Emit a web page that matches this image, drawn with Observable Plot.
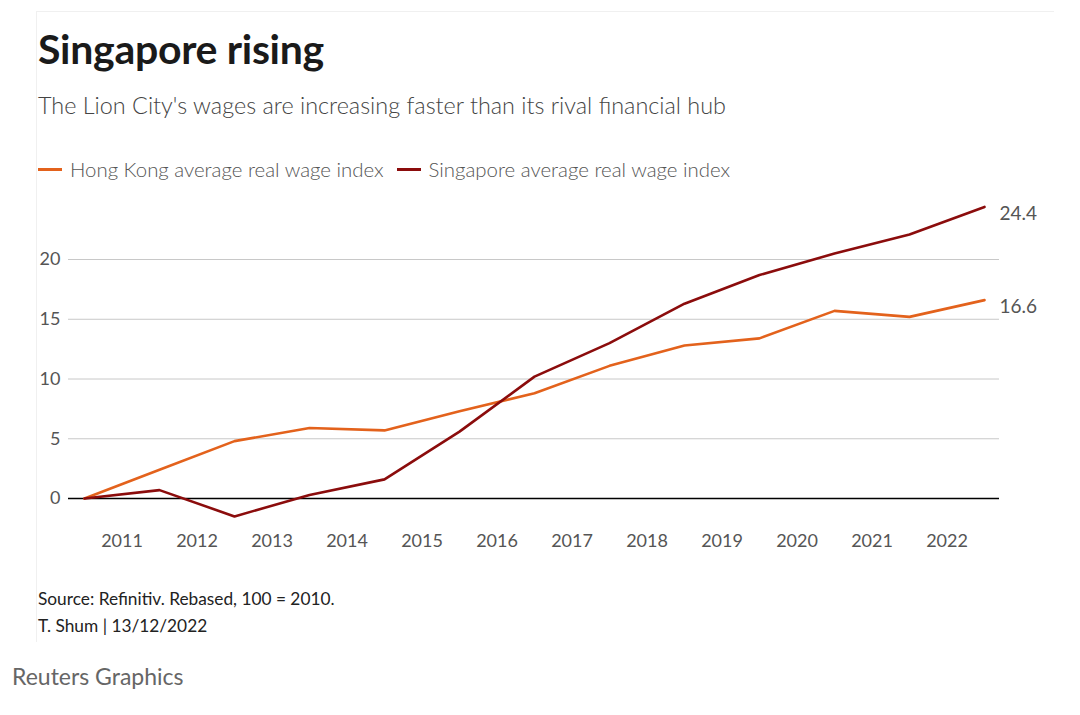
<!DOCTYPE html>
<html>
<head>
<meta charset="utf-8">
<script src="https://cdn.jsdelivr.net/npm/d3@7"></script>
<script src="https://cdn.jsdelivr.net/npm/@observablehq/plot@0.6"></script>
<style>
  html, body { margin: 0; padding: 0; background: #fff; }
  body { width: 1080px; height: 715px; position: relative; overflow: hidden; font-family: Lato, "Noto Sans", sans-serif; }
  .card { position: absolute; left: 36px; top: 11px; width: 1017px; height: 630px; border-left: 1px solid #f0f0f0; border-top: 1px solid #f0f0f0; }
  .title { position: absolute; left: 38px; top: 24px; font-size: 41px; font-weight: 700; color: #1a1a1a; letter-spacing: -0.3px; }
  .subtitle { position: absolute; left: 38px; top: 91px; font-size: 23.4px; color: #444; font-weight: 300; }
  .legend { position: absolute; left: 38px; top: 157px; font-size: 20.4px; color: #555; display: flex; align-items: center; font-weight: 300; }
  .legend .sw { display: inline-block; width: 24px; height: 3px; margin-right: 8px; }
  .legend .item { display: flex; align-items: center; margin-right: 13px; }
  #chart { position: absolute; left: 0; top: 190px; }
  .note { position: absolute; left: 38px; font-size: 17.3px; color: #222; }
  .brand { position: absolute; left: 12px; top: 662px; font-size: 23px; color: #666; }
</style>
</head>
<body>
<div class="card"></div>
<div class="title">Singapore rising</div>
<div class="subtitle">The Lion City's wages are increasing faster than its rival financial hub</div>
<div class="legend" id="legend"></div>
<div id="chart"></div>
<div class="note" style="top:588px">Source: Refinitiv. Rebased, 100 = 2010.</div>
<div class="note" style="top:615px">T. Shum | 13/12/2022</div>
<div class="brand">Reuters Graphics</div>
<script>
const years = [2010, 2011, 2012, 2013, 2014, 2015, 2016, 2017, 2018, 2019, 2020, 2021, 2022];
const hongKong = [0, 2.4, 4.8, 5.9, 5.7, 7.3, 8.8, 11.1, 12.8, 13.4, 15.7, 15.2, 16.6];
const singapore = [0, 0.7, -1.5, 0.3, 1.6, 5.6, 10.2, 13.0, 16.3, 18.7, 20.5, 22.1, 24.4];
const seriesNames = ["Hong Kong average real wage index", "Singapore average real wage index"];
const seriesColors = ["#e3621c", "#8b0c0c"];
const tickYears = [2011, 2012, 2013, 2014, 2015, 2016, 2017, 2018, 2019, 2020, 2021, 2022];
const yTicks = [0, 5, 10, 15, 20];

const rows = [];
years.forEach((yr, i) => {
  rows.push({year: yr, value: hongKong[i], series: seriesNames[0]});
  rows.push({year: yr, value: singapore[i], series: seriesNames[1]});
});
const last = years.length - 1;
const endLabels = [
  {year: years[last], value: singapore[last], series: seriesNames[1]},
  {year: years[last], value: hongKong[last], series: seriesNames[0]}
];

// legend
const leg = document.getElementById("legend");
seriesNames.forEach((n, i) => {
  const it = document.createElement("span");
  it.className = "item";
  it.innerHTML = `<span class="sw" style="background:${seriesColors[i]}"></span><span>${n}</span>`;
  leg.appendChild(it);
});

const chart = Plot.plot({
  width: 1080,
  height: 380,
  marginLeft: 68,
  marginRight: 81,
  marginTop: 10,
  marginBottom: 50,
  style: {fontFamily: "Lato, 'Noto Sans', sans-serif", background: "transparent", overflow: "visible"},
  x: {domain: [2010, 2022], range: [84, 984]},
  y: {domain: [0, 20], range: [308, 69]},
  color: {domain: seriesNames, range: seriesColors},
  marks: [
    Plot.gridY(yTicks.filter(d => d !== 0), {stroke: "#c8c8c8", strokeOpacity: 1, strokeWidth: 1}),
    Plot.ruleY([0], {stroke: "#000", strokeWidth: 1.3}),
    Plot.axisY(yTicks, {anchor: "left", tickSize: 0, tickPadding: 8, fontSize: 18, fill: "#555", label: null}),
    Plot.axisX(tickYears.map(d => d - 0.5), {anchor: "bottom", tickSize: 0, tickPadding: 14, fontSize: 18, fill: "#555", label: null, tickFormat: d => String(d + 0.5)}),
    Plot.line(rows, {x: "year", y: "value", stroke: "series", strokeWidth: 2.6, strokeLinejoin: "round"}),
    Plot.text(endLabels, {x: "year", y: "value", text: d => d.value.toFixed(1), dx: 15, dy: 7, textAnchor: "start", fontSize: 19, fill: "#555"})
  ]
});
document.getElementById("chart").appendChild(chart);
</script>
</body>
</html>
